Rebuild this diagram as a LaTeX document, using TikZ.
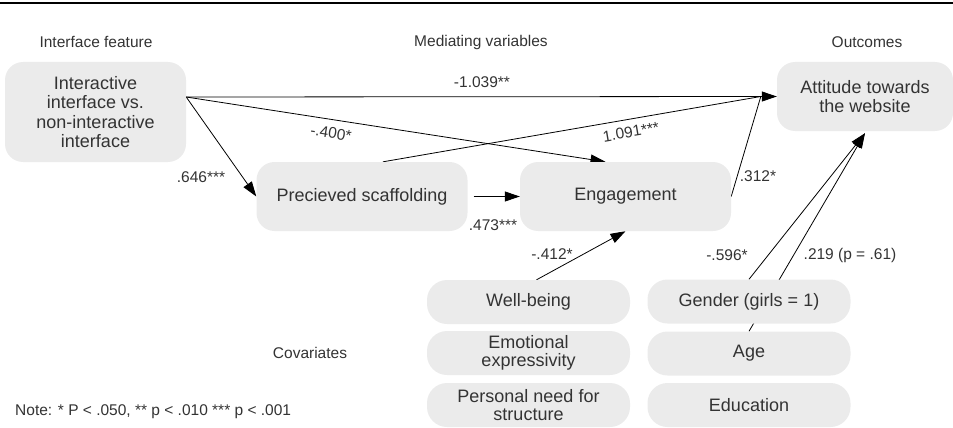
\documentclass[tikz,border=0pt]{standalone}
\usepackage{fontspec}
\setmainfont{Liberation Sans}
\usetikzlibrary{arrows.meta,backgrounds,calc}
\definecolor{boxfill}{HTML}{EBEBEB}
\definecolor{txt}{HTML}{333333}
\tikzset{
  box/.style={fill=boxfill, rounded corners=18pt, text=txt, align=center, inner sep=0pt,
    font=\fontsize{18}{19.5}\selectfont},
  pill/.style={box, rounded corners=20pt, minimum width=203pt, minimum height=44pt,
    font=\fontsize{18}{18.5}\selectfont},
  lbl/.style={text=txt, inner sep=0pt, font=\fontsize{15.5}{17}\selectfont},
  arr/.style={-{Triangle[length=15pt,width=10pt]}, line width=0.8pt},
  ln/.style={line width=0.8pt}
}
\begin{document}
\begin{tikzpicture}[x=1pt,y=-1pt]
\useasboundingbox (0,0) rectangle (953,428);
\draw[line width=2pt] (0,3) -- (953,3);

% headings
\node[lbl] (h1) at (96,42) {Interface feature};
\node[lbl] (h2) at (481,42) {Mediating variables};
\node[lbl] (h3) at (867,42) {Outcomes};

% main boxes
\node[box, minimum width=181pt, minimum height=100pt] (inter) at (95.5,112)
  {Interactive\\interface vs.\\non-interactive\\interface};
\node[box, minimum width=176pt, minimum height=69pt] (att) at (865,96.5)
  {Attitude towards\\the website};
\node[box, minimum width=211pt, minimum height=69pt] (scaf) at (362,196.5)
  {Precieved scaffolding};
\node[box, minimum width=211pt, minimum height=69pt] (eng) at (625.5,196.5)
  {Engagement};

% covariates
\node[pill] (wb) at (528.5,302) {Well-being};
\node[pill] (emo) at (528.5,353) {Emotional\\expressivity};
\node[pill] (pers) at (528.5,405) {Personal need for\\structure};
\node[pill] (gen) at (749,301.5) {Gender (girls = 1)};
\node[pill] (age) at (749,353.5) {Age};
\node[pill] (edu) at (749,405) {Education};

\node[lbl] (cov) at (310,353) {Covariates};
\node[lbl, anchor=west] (note) at (15,412) {Note: * P < .050, ** p < .010 *** p < .001};

\coordinate (src) at ([yshift=15pt]inter.east);
\coordinate (conv) at ([xshift=-16pt]att.west);

\begin{scope}[on background layer]
  \draw[arr] (src) -- (att.west);
  \draw[arr] (src) -- ([xshift=-20pt]eng.north);
  \draw[arr] (src) -- (scaf.west);
  \draw[ln] ([xshift=21pt]scaf.north) -- (conv);
  \draw[ln] (eng.east) -- (conv);
  \draw[arr] ([xshift=6pt]scaf.east) -- (eng.west);
  \draw[arr] ([xshift=8pt]wb.north) -- (eng.south);
  \draw[arr] (gen.north) -- ([yshift=-2pt]att.south);
  \draw[arr] (age.north) -- ([yshift=-2pt]att.south);
\end{scope}

% coefficients
\node[lbl] (c1) at (482,82) {-1.039**};
\node[lbl, rotate=-8.8] (c2) at (331,133) {-.400*};
\node[lbl, rotate=9.7] (c3) at (631,132) {1.091***};
\node[lbl] (c4) at (201,177) {.646***};
\node[lbl] (c5) at (493,225) {.473***};
\node[lbl] (c6) at (758,176) {.312*};
\node[lbl] (c7) at (552,254) {-.412*};
\node[lbl] (c8) at (727,255) {-.596*};
\node[lbl] (c9) at (850,255) {.219 (p = .61)};
\end{tikzpicture}
\end{document}
